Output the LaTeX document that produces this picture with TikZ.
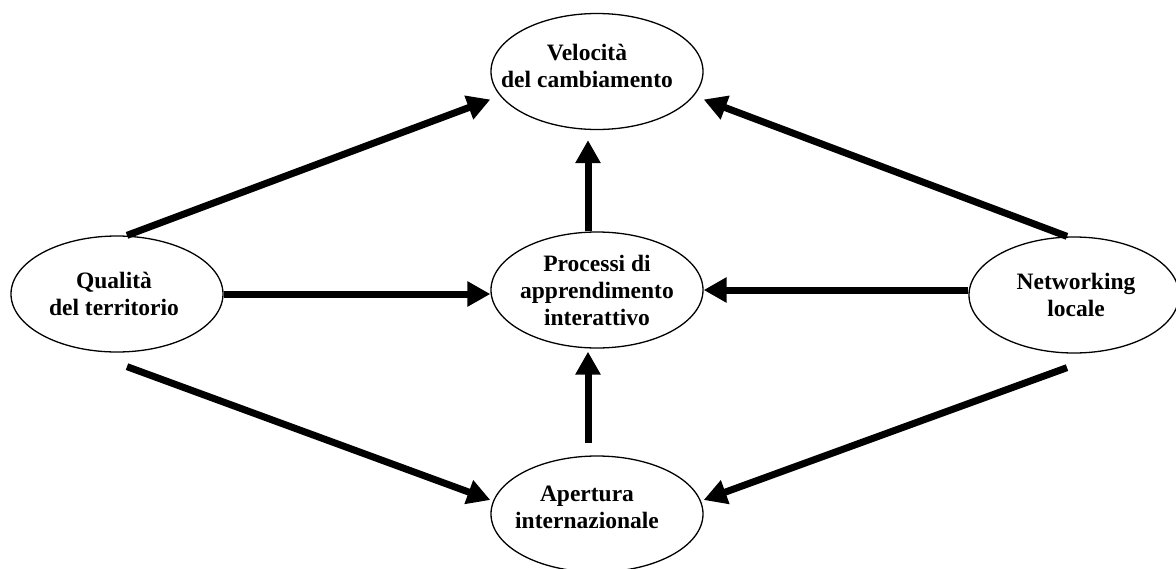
\documentclass[tikz,border=0pt]{standalone}
\usepackage{fontspec}
\setmainfont{Liberation Serif}
\usetikzlibrary{shapes.geometric, arrows.meta}
\tikzset{
every blob/.style={ellipse, draw, line width=1.3pt, minimum width=212pt, minimum height=116pt, inner sep=0pt},
lab/.style={align=center, font=\bfseries\fontsize{23.5}{27}\selectfont},
arr/.style={-{Triangle[length=23pt, width=24pt]}, line width=7pt},
}

\begin{document}
\begin{tikzpicture}[x=1pt, y=-1pt]
    \useasboundingbox (0,0) rectangle (1176,568);
    \node[every blob, label={[lab, xshift=-10, yshift=6]center:{Velocità\\del cambiamento}}] (vel) at (597,71.5) {};
    \node[every blob, label={[lab]center:{Processi di\\apprendimento\\interattivo}}] (proc) at (597,290) {};
    \node[every blob, label={[lab, xshift=-10, yshift=7]center:{Apertura\\internazionale}}] (ape) at (597,514) {};
    \node[every blob, label={[lab, xshift=-3]center:{Qualità\\del territorio}}] (qual) at (117,294) {};
    \node[every blob, minimum width=210pt, label={[lab, xshift=2]center:{Networking\\locale}}] (net) at (1074,295) {};
    \path
        ([xshift=10]qual.north) edge[arr] ([yshift=-28]vel.west)
        ([xshift=-7]net.north) edge[arr] ([yshift=-28]vel.east)
        ([xshift=10, yshift=-14]qual.south) edge[arr] ([yshift=14]ape.west)
        ([xshift=-7, yshift=-14]net.south) edge[arr] ([yshift=14]ape.east)
        (qual.east) edge[arr] (qual.east -| proc.west)
        (net.west |- proc.east) edge[arr] (proc.east)
        ([xshift=-9]proc.north) edge[arr] ([xshift=-9, yshift=-10]vel.south)
        ([xshift=-9, yshift=12]ape.north) edge[arr] ([xshift=-9, yshift=-3]proc.south)
    ;
\end{tikzpicture}
\end{document}
